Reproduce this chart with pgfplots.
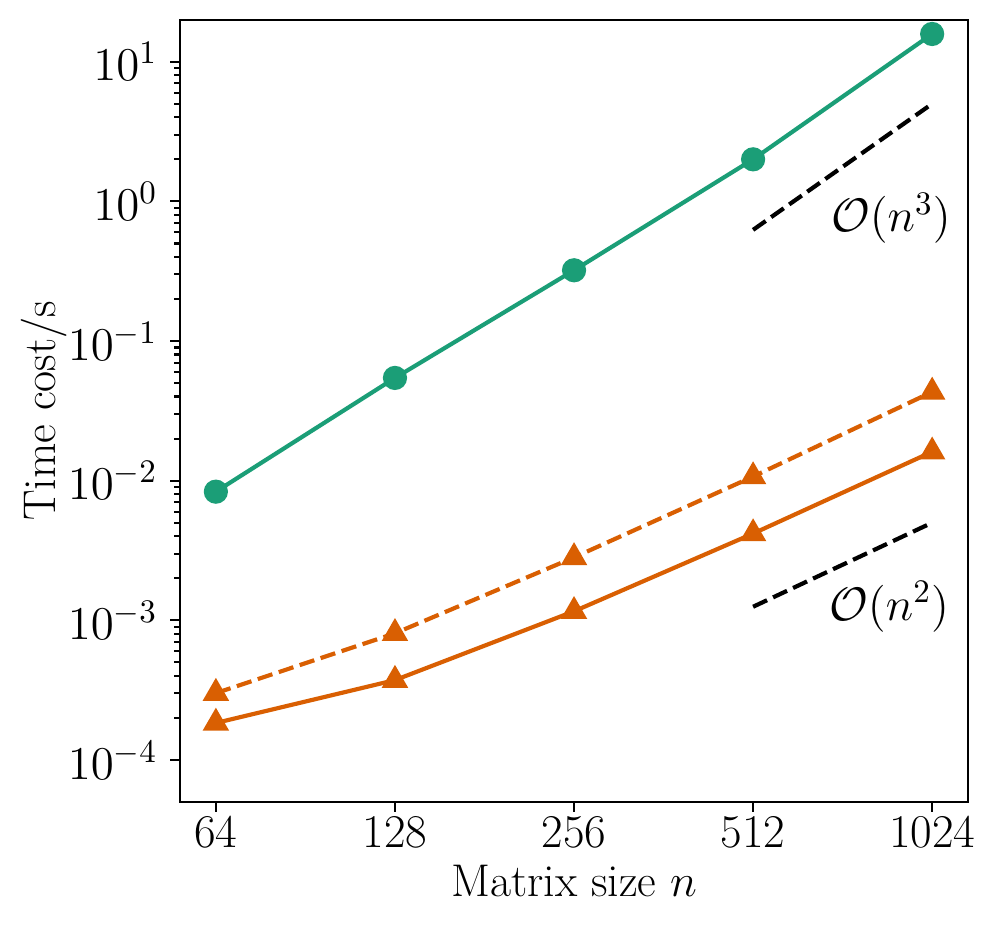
\RequirePackage{fix-cm}
\documentclass[border=0pt]{standalone}
\usepackage{pgfplots}
\pgfplotsset{compat=1.18}
\definecolor{cgreen}{HTML}{1B9E77}
\definecolor{corange}{HTML}{D95F02}
\begin{document}
\fontsize{16.5}{19}\selectfont
\begin{tikzpicture}
\begin{axis}[
  scale only axis, width=283.7pt, height=281.5pt,
  xmode=log, log basis x=2, ymode=log,
  xmin=55.7, xmax=1177, ymin=5e-5, ymax=19.9,
  xtick={64,128,256,512,1024}, xticklabels={64,128,256,512,1024},
  minor xtick={},
  ytick={1e-4,1e-3,1e-2,1e-1,1,10},
  tick align=outside, tick pos=left,
  major tick length=3.5pt, minor tick length=2pt,
  every tick/.style={black, line width=0.8pt},
  axis line style={line width=0.8pt},
  xlabel={Matrix size $n$}, ylabel={Time cost/s},
  tick label style={font=\fontsize{16.9}{19}\selectfont},
  xticklabel style={yshift=4pt},
  yticklabel style={xshift=1pt},
  label style={font=\fontsize{16.5}{19}\selectfont},
  xlabel style={at={(axis description cs:0.5,-0.1017)}, anchor=center},
  ylabel style={at={(axis description cs:-0.173,0.5)}, anchor=center, rotate=0},
  clip=false,
]
\addplot[cgreen, line width=1.5pt, mark=*, mark size=3.6pt, mark options={solid}]
  coordinates {(64,0.00834)(128,0.0544)(256,0.321)(512,2.0)(1024,15.8)};
\addplot[corange, line width=1.5pt, dash pattern=on 5.55pt off 2.4pt, mark=triangle*, mark size=4pt, mark options={solid}]
  coordinates {(64,3.01e-4)(128,8.07e-4)(256,2.82e-3)(512,0.0107)(1024,0.0432)};
\addplot[corange, line width=1.5pt, mark=triangle*, mark size=4pt, mark options={solid}]
  coordinates {(64,1.84e-4)(128,3.73e-4)(256,1.16e-3)(512,4.18e-3)(1024,0.0161)};
\addplot[black, line width=1.5pt, dash pattern=on 5.55pt off 2.4pt] coordinates {(512,0.625)(1024,5)};
\addplot[black, line width=1.5pt, dash pattern=on 5.55pt off 2.4pt] coordinates {(512,1.25e-3)(1024,5e-3)};
\node[font=\fontsize{16.9}{19}\selectfont] at (axis cs:873,0.76) {$\mathcal{O}(n^3)$};
\node[font=\fontsize{16.9}{19}\selectfont] at (axis cs:867,1.25e-3) {$\mathcal{O}(n^2)$};
\end{axis}
\path[use as bounding box] (current axis.south west) ++(-64.8pt,-47.5pt) rectangle ++(358.9pt,336.2pt);
\end{tikzpicture}
\end{document}
